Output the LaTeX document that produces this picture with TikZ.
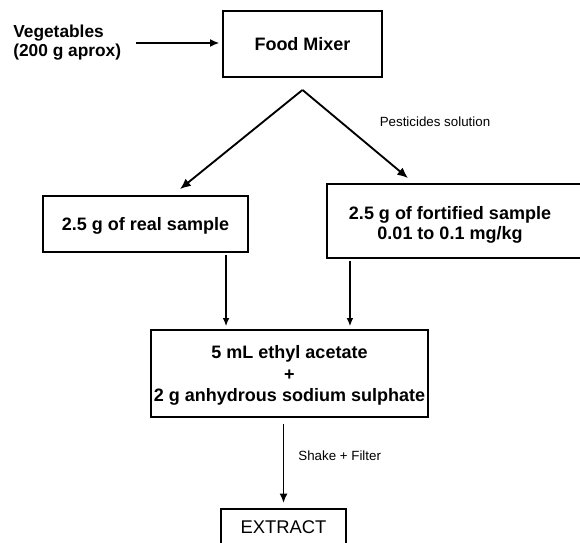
\documentclass[tikz,border=0pt]{standalone}
\usepackage{fontspec}
\setmainfont{Liberation Sans}
\usetikzlibrary{arrows.meta}

\begin{document}
\begin{tikzpicture}[x=0.75pt,y=-0.75pt,
stepBox/.style={
draw=black,
line width=1.4pt,
inner sep=0pt,
align=center,
font=\fontsize{13.5}{15}\selectfont\bfseries
},
noteText/.style={inner sep=0pt,font=\fontsize{10}{12}\selectfont},
thickArrow/.style={line width=1.4pt,-{Latex[length=8pt,width=7pt]}},
thinArrow/.style={line width=0.9pt,-{Latex[length=6pt,width=5pt]}},
midArrow/.style={line width=1.3pt,-{Latex[length=7pt,width=6pt]}}
]
\useasboundingbox (0,0) rectangle (580,542);

\node[
inner sep=0pt,
anchor=west,
align=left,
font=\fontsize{13}{14.25}\selectfont\bfseries
] (veg) at (13,43) {Vegetables\\(200 g aprox)};

\node[stepBox,minimum width=119.25pt,minimum height=49.5pt] (mixer) at (302.5,44) {Food Mixer};
\coordinate (split) at ([yshift=-9pt]mixer.south);

\node[stepBox,minimum width=153.75pt,minimum height=42pt,text depth=0pt] (real) at (145.5,224) {2.5 g of real sample};

\node[stepBox,minimum width=197.25pt,minimum height=55.5pt] (fort) at (458.5,221) {};
\node[stepBox,draw=none] (fortText) at (450,225) {2.5 g of fortified sample\\0.01 to 0.1 mg/kg};

\node[
stepBox,
minimum width=207.75pt,
minimum height=65.25pt,
text depth=0pt,
font=\fontsize{13.5}{15.8}\selectfont\bfseries
] (mix) at (289.5,373.5)
{5 mL ethyl acetate\\+\\2 g anhydrous sodium sulphate};

\node[
stepBox,
anchor=north,
minimum width=93.75pt,
minimum height=27pt,
font=\fontsize{13.8}{15}\selectfont
] (extract) at (283.5,508) {EXTRACT};

\node[noteText] (pest) at (435,122) {Pesticides solution};

\draw[midArrow] ([xshift=11pt]veg.east) -- ([xshift=-2pt]veg.east -| mixer.west);
\draw[thickArrow] (split) -- ([xshift=25.9pt,yshift=4.5pt]real.north);
\draw[thickArrow] (split) -- ([xshift=-37.9pt,yshift=3.75pt]fort.north);

\draw[thinArrow,shorten >=2.25pt] ([xshift=60.4pt,yshift=-1.5pt]real.south) -- ([xshift=60.4pt]real.south |- mix.north);
\draw[thinArrow,shorten >=2.25pt] ([xshift=-81.4pt,yshift=-1.5pt]fort.south) -- ([xshift=-81.4pt]fort.south |- mix.north);

\draw[midArrow,shorten <=4.5pt,shorten >=3.75pt] (mix.south -| extract.north) -- (extract.north)
node[noteText,pos=0.42,anchor=west,xshift=10.5pt] (shake) {Shake + Filter};
\end{tikzpicture}
\end{document}
